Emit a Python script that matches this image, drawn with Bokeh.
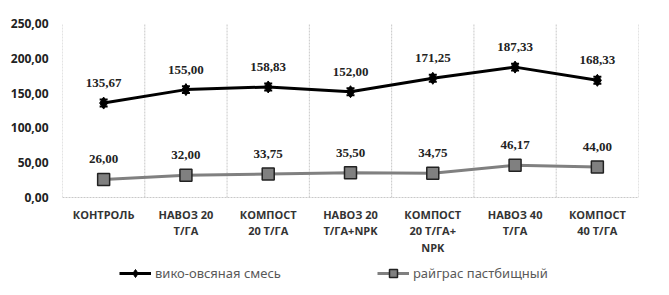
from bokeh.plotting import figure
from bokeh.models import (ColumnDataSource, FixedTicker, Legend, LegendItem,
                          LabelSet, Whisker, Range1d, TeeHead)
from bokeh.core.properties import value
from bokeh.embed import file_html
from bokeh.resources import INLINE

categories = ["КОНТРОЛЬ", "НАВОЗ 20\nТ/ГА", "КОМПОСТ\n20 Т/ГА", "НАВОЗ 20\nТ/ГА+NPK",
              "КОМПОСТ\n20 Т/ГА+\nNPK", "НАВОЗ 40\nТ/ГА", "КОМПОСТ\n40 Т/ГА"]
vetch_oat = [135.67, 155.00, 158.83, 152.00, 171.25, 187.33, 168.33]
vetch_err = [5, 5, 5, 5, 5, 5, 5]
ryegrass = [26.00, 32.00, 33.75, 35.50, 34.75, 46.17, 44.00]
series_names = ["вико-овсяная смесь", "райграс пастбищный"]
y_ticks = [0, 50, 100, 150, 200, 250]

def fmt(v):
    return f"{v:.2f}".replace(".", ",")

n = len(categories)
ymin, ymax = y_ticks[0], y_ticks[-1]
xs = [i + 0.5 for i in range(n)]
src = ColumnDataSource(dict(
    x=xs, v=vetch_oat, r=ryegrass, cat=categories, base=[ymin] * n,
    vlo=[a - e for a, e in zip(vetch_oat, vetch_err)],
    vhi=[a + e for a, e in zip(vetch_oat, vetch_err)],
    vl=[fmt(a) for a in vetch_oat], rl=[fmt(a) for a in ryegrass],
))
bounds = list(range(n + 1))
gsrc = ColumnDataSource(dict(x=bounds, y0=[ymin] * (n + 1), y1=[ymax] * (n + 1)))

# plot area is 174 px tall for 0..250; the frame extends below to hold labels and legend
px_per_unit = 174 / (ymax - ymin)
below_units = (295 - 23 - 174) / px_per_unit

p = figure(width=669, height=295, output_backend="svg", toolbar_location=None,
           x_range=Range1d(0, n), y_range=Range1d(ymin - below_units, ymax),
           x_axis_location=None,
           min_border_left=62, min_border_right=31, min_border_top=23,
           min_border_bottom=0)
p.outline_line_color = None
p.background_fill_color = "white"
p.xgrid.visible = False
p.ygrid.visible = False

# category boundary grid lines and baseline
p.segment(x0="x", y0="y0", x1="x", y1="y1", source=gsrc,
          line_color="#c8c8c8", line_dash="2 1", line_width=1)
p.segment(x0=[0], y0=[ymin], x1=[n], y1=[ymin],
          line_color="#c8c8c8", line_dash="2 1", line_width=1)

# y axis
p.yaxis.ticker = FixedTicker(ticks=y_ticks)
p.yaxis.major_label_overrides = {t: fmt(t) for t in y_ticks}
p.yaxis.axis_line_color = None
p.yaxis.major_tick_line_color = None
p.yaxis.minor_tick_line_color = None
p.yaxis.major_label_text_font = "Open Sans"
p.yaxis.major_label_text_font_style = "bold"
p.yaxis.major_label_text_font_size = "12px"
p.yaxis.major_label_text_color = "#222222"
p.yaxis.major_label_standoff = 8

# category labels
p.text(x="x", y="base", text="cat", source=src, y_offset=9,
       text_align="center", text_baseline="top",
       text_font=value("Open Sans"), text_font_style="bold",
       text_font_size="11px", text_color="#333333", text_line_height=1.12)

# ryegrass
r_line = p.line("x", "r", source=src, line_color="#808080", line_width=3)
r_mark = p.scatter("x", "r", source=src, marker="square", size=12,
                   fill_color="#808080", line_color="#222222", line_width=1.5)
# vetch-oat
v_line = p.line("x", "v", source=src, line_color="black", line_width=3)
v_mark = p.scatter("x", "v", source=src, marker="diamond", size=12,
                   fill_color="black", line_color="black")
p.add_layout(Whisker(source=src, base="x", lower="vlo", upper="vhi",
                     line_color="black", line_width=2,
                     upper_head=TeeHead(size=8, line_color="black", line_width=2),
                     lower_head=TeeHead(size=8, line_color="black", line_width=2)))

for col, ycol in (("vl", "v"), ("rl", "r")):
    p.add_layout(LabelSet(x="x", y=ycol, text=col, source=src, x_offset=0, y_offset=20,
                          text_align="center", text_baseline="middle",
                          text_font="Open Sans", text_font_style="bold",
                          text_font_size="13px", text_color="#222222"))

legend = Legend(items=[LegendItem(label=series_names[0], renderers=[v_line, v_mark]),
                       LegendItem(label=series_names[1], renderers=[r_line, r_mark])],
                orientation="horizontal", location=(57, 12),
                label_text_font="Noto Sans", label_text_font_size="13px",
                label_text_color="#595959", glyph_width=32, spacing=96,
                border_line_color=None, background_fill_alpha=0, margin=0,
                padding=4, label_standoff=4)
p.add_layout(legend, "center")

open("out.html", "w").write(file_html(p, INLINE))
